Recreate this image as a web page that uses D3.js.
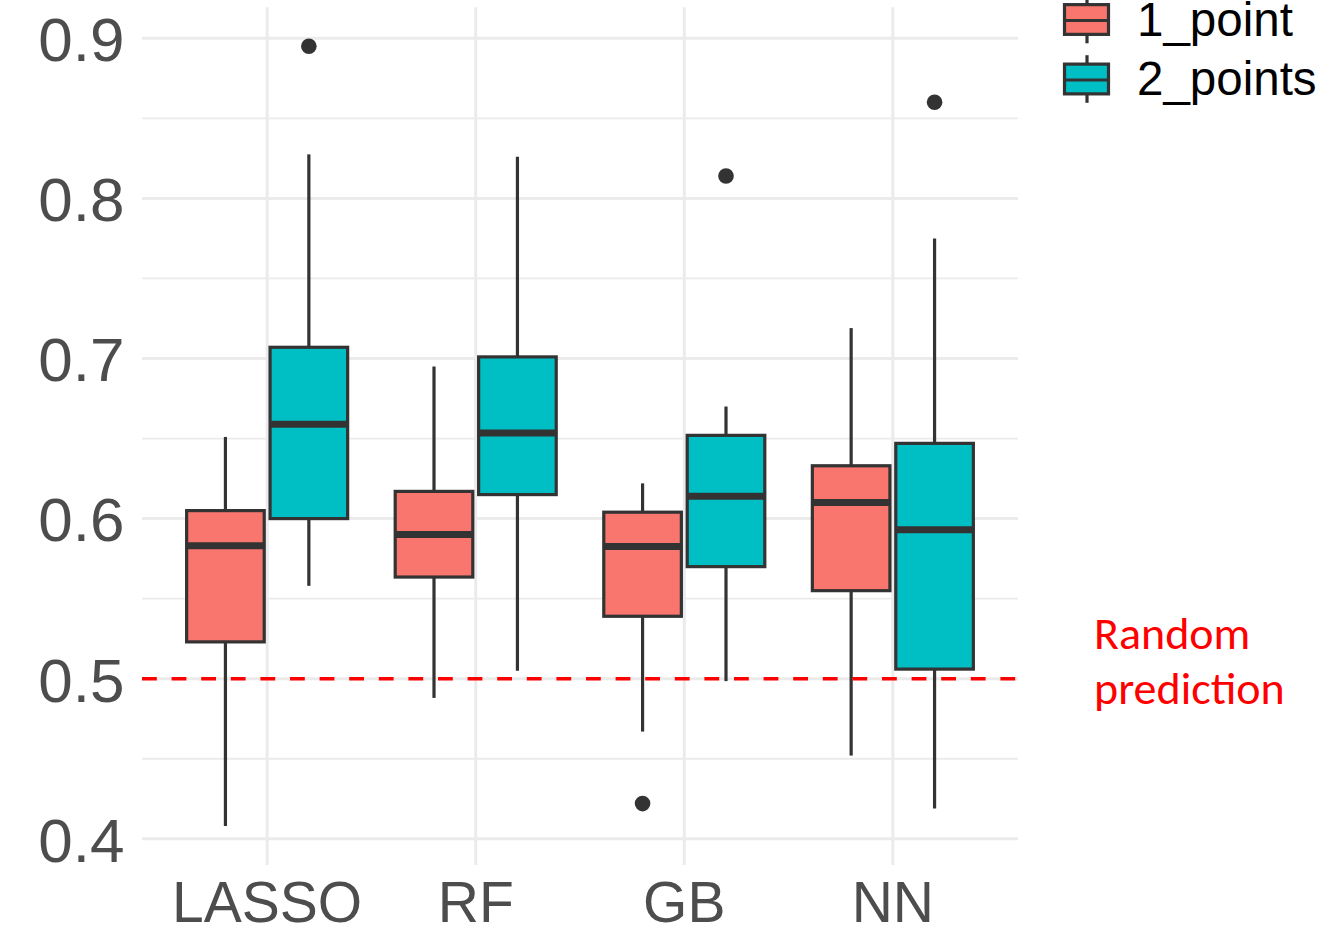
<!DOCTYPE html>
<html>
<head>
<meta charset="utf-8">
<script src="https://cdn.jsdelivr.net/npm/d3@7"></script>
<style>
  html, body { margin: 0; padding: 0; background: #ffffff; }
  svg { display: block; }
</style>
</head>
<body>
<svg id="chart" width="1337" height="927"></svg>
<script>
// Models on the x axis and the two training set-ups
const models = ["LASSO", "RF", "GB", "NN"];
const groups = ["1_point", "2_points"];
const groupColors = ["#F8766D", "#00BFC4"];

// Box statistics for 1_point (one value per model)
const whiskerLow1  = [0.408, 0.488, 0.467, 0.452];
const q1_1         = [0.523, 0.5635, 0.539, 0.555];
const median1      = [0.583, 0.590, 0.5825, 0.610];
const q3_1         = [0.605, 0.617, 0.604, 0.633];
const whiskerHigh1 = [0.651, 0.695, 0.622, 0.719];
const outliers1    = [[], [], [0.422], []];

// Box statistics for 2_points
const whiskerLow2  = [0.558, 0.505, 0.4985, 0.419];
const q1_2         = [0.600, 0.615, 0.570, 0.506];
const median2      = [0.659, 0.6535, 0.614, 0.593];
const q3_2         = [0.707, 0.701, 0.652, 0.647];
const whiskerHigh2 = [0.8275, 0.826, 0.670, 0.775];
const outliers2    = [[0.895], [], [0.814], [0.860]];

// Axis ticks and reference line
const yMajorTicks = [0.4, 0.5, 0.6, 0.7, 0.8, 0.9];
const yMinorTicks = [0.45, 0.55, 0.65, 0.75, 0.85];
const chanceLevel = 0.5;
const chanceLabel = ["Random", "prediction"];

// Build one record per box
const stats = [
  [whiskerLow1, q1_1, median1, q3_1, whiskerHigh1, outliers1],
  [whiskerLow2, q1_2, median2, q3_2, whiskerHigh2, outliers2]
];
const boxes = [];
groups.forEach((g, gi) => {
  models.forEach((m, mi) => {
    const [lo, q1, med, q3, hi, out] = stats[gi];
    boxes.push({ model: m, group: g, color: groupColors[gi],
      lo: lo[mi], q1: q1[mi], med: med[mi], q3: q3[mi], hi: hi[mi], out: out[mi] });
  });
});

const svg = d3.select("#chart");
const panel = { left: 142, right: 1018, top: 7.3, bottom: 865 };

// y scale with 5% padding around the data extent
const allVals = boxes.flatMap(b => [b.lo, b.hi, ...b.out]);
const [vMin, vMax] = d3.extent(allVals);
const pad = (vMax - vMin) * 0.05;
const y = d3.scaleLinear()
  .domain([vMin - pad, vMax + pad])
  .range([panel.bottom, panel.top]);

const x = d3.scaleBand()
  .domain(models)
  .range([panel.left, panel.right])
  .paddingInner(0)
  .paddingOuter(0.1);
const step = x.step();
const xSub = d3.scaleBand()
  .domain(groups)
  .range([-0.4 * step, 0.4 * step]);
const boxW = xSub.bandwidth() * 0.93;

const ink = "#333333";
const gridColor = "#EBEBEB";
const lineW = 3.2;

// Grid lines
const grid = svg.append("g");
grid.selectAll("line.minor").data(yMinorTicks).join("line")
  .attr("x1", panel.left).attr("x2", panel.right)
  .attr("y1", d => y(d)).attr("y2", d => y(d))
  .attr("stroke", gridColor).attr("stroke-width", 1.8);
grid.selectAll("line.major").data(yMajorTicks).join("line")
  .attr("x1", panel.left).attr("x2", panel.right)
  .attr("y1", d => y(d)).attr("y2", d => y(d))
  .attr("stroke", gridColor).attr("stroke-width", 3);
grid.selectAll("line.vert").data(models).join("line")
  .attr("x1", d => x(d) + step / 2).attr("x2", d => x(d) + step / 2)
  .attr("y1", panel.top).attr("y2", panel.bottom)
  .attr("stroke", gridColor).attr("stroke-width", 3);

// Y axis labels
const yAxis = d3.axisLeft(y).tickValues(yMajorTicks)
  .tickFormat(d3.format(".1f")).tickSize(0).tickPadding(0);
const yG = svg.append("g").attr("transform", `translate(124.5,0)`).call(yAxis);
yG.select(".domain").remove();
yG.selectAll("text")
  .attr("font-family", "'Liberation Sans', Arial, sans-serif")
  .attr("font-size", 62).attr("fill", "#4D4D4D")
  .attr("dy", "0.36em");

// X axis labels
const xAxis = d3.axisBottom(x).tickSize(0).tickPadding(0);
const xG = svg.append("g").attr("transform", `translate(0,922)`).call(xAxis);
xG.select(".domain").remove();
xG.selectAll("text")
  .attr("font-family", "'Liberation Sans', Arial, sans-serif")
  .attr("font-size", 57).attr("fill", "#4D4D4D")
  .attr("dy", 0).attr("y", 0);

// Boxplots
const bx = d => x(d.model) + step / 2 + xSub(d.group) + xSub.bandwidth() / 2;
const bg = svg.append("g").selectAll("g").data(boxes).join("g");
bg.append("line")
  .attr("x1", bx).attr("x2", bx)
  .attr("y1", d => y(d.hi)).attr("y2", d => y(d.q3))
  .attr("stroke", ink).attr("stroke-width", lineW);
bg.append("line")
  .attr("x1", bx).attr("x2", bx)
  .attr("y1", d => y(d.q1)).attr("y2", d => y(d.lo))
  .attr("stroke", ink).attr("stroke-width", lineW);
bg.append("rect")
  .attr("x", d => bx(d) - boxW / 2).attr("width", boxW)
  .attr("y", d => y(d.q3)).attr("height", d => y(d.q1) - y(d.q3))
  .attr("fill", d => d.color).attr("stroke", ink).attr("stroke-width", lineW);
bg.append("line")
  .attr("x1", d => bx(d) - boxW / 2).attr("x2", d => bx(d) + boxW / 2)
  .attr("y1", d => y(d.med)).attr("y2", d => y(d.med))
  .attr("stroke", ink).attr("stroke-width", 7);
bg.selectAll("circle").data(d => d.out.map(v => ({ v, d }))).join("circle")
  .attr("cx", o => bx(o.d)).attr("cy", o => y(o.v))
  .attr("r", 7.8).attr("fill", ink);

// Chance-level reference line
svg.append("line")
  .attr("x1", panel.left).attr("x2", panel.right)
  .attr("y1", y(chanceLevel)).attr("y2", y(chanceLevel))
  .attr("stroke", "#FF0000").attr("stroke-width", 3.4)
  .attr("stroke-dasharray", "14.8,14.8");

svg.append("text")
  .attr("font-family", "Carlito, Calibri, Lato, sans-serif")
  .attr("font-size", 46).attr("fill", "#FF0000")
  .selectAll("tspan").data(chanceLabel).join("tspan")
  .attr("x", 1094).attr("y", (d, i) => 649.3 + i * 54.7)
  .text(d => d);

// Legend
const keyH = 59.5;
const keyCenters = [19.5, 79];
const leg = svg.append("g").selectAll("g").data(groups).join("g");
leg.append("line")
  .attr("x1", 1087).attr("x2", 1087)
  .attr("y1", (d, i) => keyCenters[i] - keyH * 0.4)
  .attr("y2", (d, i) => keyCenters[i] + keyH * 0.4)
  .attr("stroke", ink).attr("stroke-width", lineW);
leg.append("rect")
  .attr("x", 1064.5).attr("width", 44)
  .attr("y", (d, i) => keyCenters[i] - keyH * 0.25).attr("height", keyH * 0.5)
  .attr("fill", (d, i) => groupColors[i]).attr("stroke", ink).attr("stroke-width", lineW);
leg.append("line")
  .attr("x1", 1064.5).attr("x2", 1108.5)
  .attr("y1", (d, i) => keyCenters[i] + 1).attr("y2", (d, i) => keyCenters[i] + 1)
  .attr("stroke", ink).attr("stroke-width", lineW);
leg.append("text")
  .attr("x", 1137).attr("y", (d, i) => [36, 95][i])
  .attr("font-family", "'Liberation Sans', Arial, sans-serif")
  .attr("font-size", 47.5).attr("fill", "#000000")
  .text(d => d);
</script>
</body>
</html>
